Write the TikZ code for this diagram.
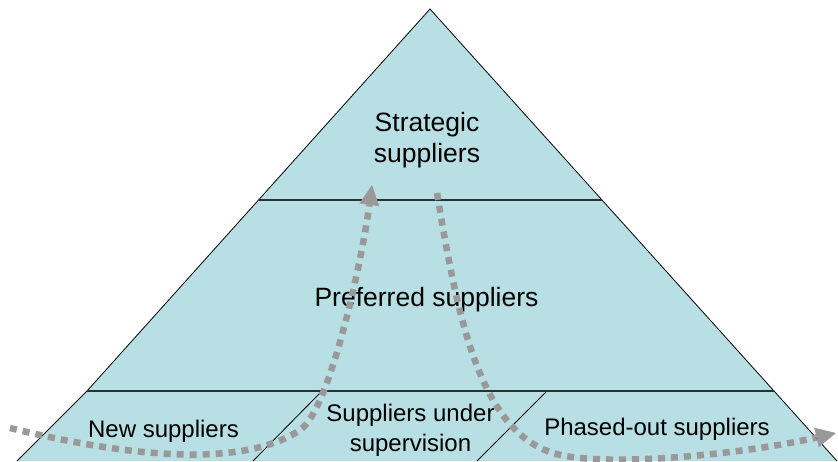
\documentclass[tikz,border=0pt]{standalone}
\usepackage{fontspec}
\setmainfont{Liberation Sans}
\usetikzlibrary{arrows.meta}
\definecolor{pyrfill}{RGB}{184,223,227}
\definecolor{flowgray}{RGB}{153,153,153}
\definecolor{bandline}{RGB}{40,50,50}
\begin{document}
\begin{tikzpicture}[x=1pt,y=-1pt,
  shapefill/.style={fill=pyrfill},
  shapeedge/.style={draw=black,line width=0.8pt,line join=miter},
  bandedge/.style={draw=bandline,line width=1.4pt},
  bigtxt/.style={font=\fontsize{26.5}{30.5}\selectfont,align=center,inner sep=0pt},
  smalltxt/.style={font=\fontsize{24}{30}\selectfont,align=center,inner sep=0pt},
  flow/.style={draw=flowgray,line width=6.5pt,line cap=butt,dash pattern=on 7pt off 6pt,
    -{Triangle[length=20pt,width=20pt,line width=0pt]}}
]
\useasboundingbox (0,0) rectangle (838,461);
% main triangle
\coordinate (apex) at (430,9);
\coordinate (bl) at (87,391);
\coordinate (br) at (774,391);
\coordinate (sl) at (258.5,200);
\coordinate (sr) at (602,200);
% bottom band corners
\coordinate (d1t) at (322,391);
\coordinate (d1b) at (253,461);
\coordinate (d2t) at (547,391);
\coordinate (d2b) at (477,461);
\coordinate (lb) at (17,461);
\coordinate (rb) at (837,461);

\fill[shapefill] (apex) -- (bl) -- (br) -- cycle;
\fill[shapefill] (bl) -- (br) -- (rb) -- (lb) -- cycle;
\draw[shapeedge] (bl) -- (apex) -- (br);
\draw[shapeedge] (bl) -- (lb);
\draw[shapeedge] (br) -- (rb);
\draw[shapeedge] (d1t) -- (d1b);
\draw[shapeedge] (d2t) -- (d2b);
\draw[bandedge] (sl) -- (sr);
\draw[bandedge] (bl) -- (br);

% labels
\node[bigtxt] (strategic) at (427,140) {Strategic\\suppliers};
\node[bigtxt,anchor=base] (preferred) at (426.5,306) {Preferred suppliers};
\node[smalltxt,anchor=base] (newsup) at (163.5,437) {New suppliers};
\node[smalltxt] (supervision) at (410.5,430.5) {Suppliers under\\supervision};
\node[smalltxt,anchor=base] (phased) at (657,435) {Phased-out suppliers};

% flows
\coordinate (flowAstart) at (10,428);
\coordinate (flowAmid) at (300,430);
\coordinate (flowAend) at (372,185);
\coordinate (flowBstart) at (437,193);
\coordinate (flowBmid) at (553,453);
\coordinate (flowBend) at (836,433);
\draw[flow] (flowAstart) .. controls (120,455) and (240,470) .. (flowAmid)
  .. controls (330,410) and (362,260) .. (flowAend);
\draw[flow] (flowBstart) .. controls (458,320) and (480,430) .. (flowBmid)
  .. controls (600,468) and (740,455) .. (flowBend);
\end{tikzpicture}
\end{document}
